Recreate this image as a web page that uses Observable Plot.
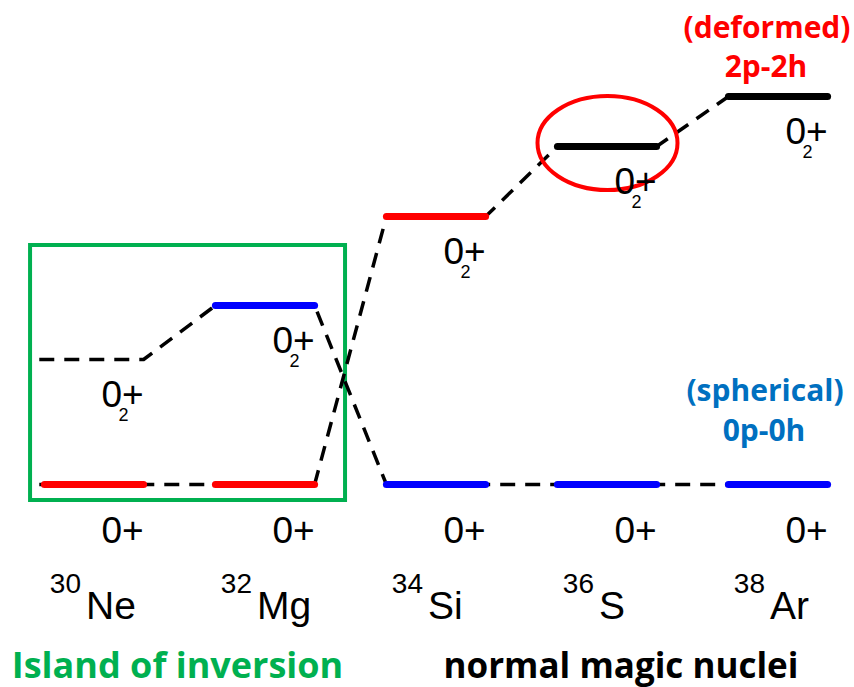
<!DOCTYPE html>
<html><head><meta charset="utf-8">
<script src="https://cdn.jsdelivr.net/npm/d3@7"></script>
<script src="https://cdn.jsdelivr.net/npm/@observablehq/plot@0.6"></script>
<style>body{margin:0;background:#fff} #chart svg{display:block}</style>
</head><body><div id="chart"></div>
<script>
// ---- data (schematic energies, arbitrary units) ----
const nuclei = ["Ne", "Mg", "Si", "S", "Ar"];
const massNumbers = ["30", "32", "34", "36", "38"];
const deformedE = [0, 0, 2.68, 3.38, 3.88];   // 2p-2h (deformed) 0+ states
const sphericalE = [1.25, 1.79, 0, 0, 0];     // 0p-0h (spherical) 0+ states
const groupLabels = ["Island of inversion", "normal magic nuclei"];
const deformedLabel = ["(deformed)", "2p-2h"];
const sphericalLabel = ["(spherical)", "0p-0h"];
const stateLabel = "0+";
const excitedIndex = "2";

// ---- styles ----
const RED = "#ff0000", BLUE = "#0000ff", BLACK = "#000000", GREEN = "#00b050", SBLUE = "#0070c0";
const levelColor = {
  deformed: [RED, RED, RED, BLACK, BLACK],
  spherical: [null, BLUE, BLUE, BLUE, BLUE]   // null: drawn dashed only
};
const hw = 0.29;               // half width of a level line (x units)
const SANS = "Liberation Sans, Arial, sans-serif";
const BOLD = "Open Sans, sans-serif";

const levels = nuclei.flatMap((n, i) => [
  {i, e: deformedE[i], chain: "deformed", color: levelColor.deformed[i]},
  {i, e: sphericalE[i], chain: "spherical", color: levelColor.spherical[i]}
]);
const isGround = d => d.e === Math.min(deformedE[d.i], sphericalE[d.i]);
const ground = levels.filter(isGround);
const excited = levels.filter(d => !isGround(d));

const chains = {deformed: deformedE, spherical: sphericalE};
const chainPts = Object.entries(chains).flatMap(([c, E]) =>
  E.flatMap((e, i) => [{chain: c, x: i - hw - (i === 0 ? 0.03 : 0), y: e}, {chain: c, x: i + hw, y: e}]));

const nucleiRows = nuclei.map((n, i) => ({i, n, a: massNumbers[i]}));

const ellipseMark = (index, scales) => {
  const g = d3.create("svg:g");
  g.append("ellipse")
    .attr("cx", scales.x(3) + 1)
    .attr("cy", scales.y(deformedE[3]) - 3)
    .attr("rx", 70).attr("ry", 47)
    .attr("fill", "none").attr("stroke", RED).attr("stroke-width", 4);
  return g.node();
};

const cfgText = (label, k, y, dx, dy, fill) =>
  Plot.text([label[k]], {x: () => 4, y: () => y, text: d => d, textAnchor: "middle",
    lineAnchor: "bottom", dx, dy, fontSize: 30, fontWeight: "bold", fontFamily: BOLD, fill});

const chart = Plot.plot({
  width: 854, height: 687,
  margin: 0,
  style: {background: "white", overflow: "visible"},
  x: {domain: [0, 4], range: [93.5, 777.5], axis: null},
  y: {domain: [0, 3.88], range: [484, 96], axis: null},
  marks: [
    // island of inversion box
    Plot.rect([0], {x1: () => -0.371, x2: () => 1.471, y1: () => -0.16, y2: () => 2.39,
      fill: "none", stroke: GREEN, strokeWidth: 4}),
    // dashed connectors (through each configuration)
    Plot.line(chainPts, {x: "x", y: "y", z: "chain", stroke: BLACK, strokeWidth: 3.5,
      strokeDasharray: "15 10", strokeLinecap: "butt"}),
    // level lines
    Plot.link(levels.filter(d => d.color), {x1: d => d.i - hw, x2: d => d.i + hw, y1: "e", y2: "e",
      stroke: "color", strokeWidth: 7, strokeLinecap: "round"}),
    ellipseMark,
    // ground-state labels
    Plot.text(ground, {x: d => d.i + hw, y: "e", text: () => stateLabel, textAnchor: "end",
      lineAnchor: "bottom", dy: 58, fontSize: 37, fontFamily: SANS, fill: BLACK}),
    // excited 0+_2 labels
    Plot.text(excited, {x: d => d.i + hw, y: "e", text: () => stateLabel, textAnchor: "end",
      lineAnchor: "bottom", dy: 47, fontSize: 37, fontFamily: SANS, fill: BLACK}),
    Plot.text(excited, {x: d => d.i + hw, y: "e", text: () => excitedIndex, textAnchor: "middle",
      lineAnchor: "bottom", dx: -20, dy: 61, fontSize: 18, fontFamily: SANS, fill: BLACK}),
    // nucleus labels
    Plot.text(nucleiRows, {x: "i", y: () => 0, text: "n", textAnchor: "start", lineAnchor: "bottom",
      dx: -8, dy: 134, fontSize: 39, fontFamily: SANS, fill: BLACK}),
    Plot.text(nucleiRows, {x: "i", y: () => 0, text: "a", textAnchor: "end", lineAnchor: "bottom",
      dx: -13, dy: 108, fontSize: 28, fontFamily: SANS, fill: BLACK}),
    // group labels
    Plot.text([groupLabels[0]], {x: () => 0.5, y: () => 0, text: d => d, textAnchor: "middle",
      lineAnchor: "bottom", dx: -2, dy: 193, fontSize: 36, fontWeight: "bold", fontFamily: BOLD, fill: GREEN}),
    Plot.text([groupLabels[1]], {x: () => 3, y: () => 0, text: d => d, textAnchor: "middle",
      lineAnchor: "bottom", dx: 14, dy: 193, fontSize: 35, fontWeight: "bold", fontFamily: BOLD, fill: BLACK}),
    // configuration labels
    cfgText(deformedLabel, 0, deformedE[4], -11, -59, RED),
    cfgText(deformedLabel, 1, deformedE[4], -12, -20, RED),
    cfgText(sphericalLabel, 0, sphericalE[4], -13, -84, SBLUE),
    cfgText(sphericalLabel, 1, sphericalE[4], -14, -44, SBLUE)
  ]
});
document.getElementById("chart").append(chart);
</script></body></html>
